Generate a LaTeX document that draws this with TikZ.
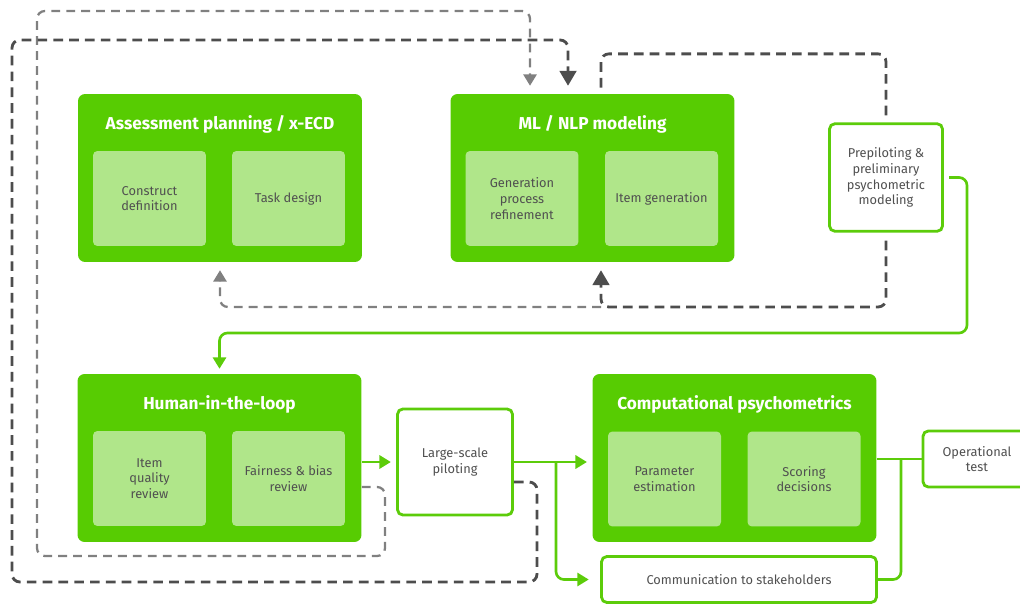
\documentclass[tikz,border=0pt]{standalone}
\usepackage{fontspec}
\setmainfont{Fira Sans}
\usetikzlibrary{positioning, arrows.meta}
\definecolor{phasegreen}{RGB}{87, 204, 2}
\definecolor{tasklight}{RGB}{176, 230, 138}
\definecolor{linegreen}{RGB}{92, 204, 10}
\definecolor{loopdark}{RGB}{77, 77, 77}
\definecolor{loopgray}{RGB}{128, 128, 128}
\definecolor{labelgray}{RGB}{80, 80, 80}

\begin{document}
\begin{tikzpicture}[
            x=0.02cm, y=-0.02cm,
            phase/.style={fill=phasegreen, rounded corners=4pt, minimum width=5.68cm, minimum height=3.36cm},
            phasetitle/.style={text=white, font=\bfseries\fontsize{9.8}{12}\selectfont},
            task/.style={fill=tasklight, rounded corners=2.5pt, minimum width=2.26cm, minimum height=1.9cm, align=center, text=labelgray, font=\fontsize{7.3}{9}\selectfont},
            stepbox/.style={draw=linegreen, line width=1.6pt, fill=white, rounded corners=3pt, align=center, text=labelgray, font=\fontsize{7.3}{9}\selectfont},
            garrow/.style={draw=linegreen, line width=1.5pt, rounded corners=4.5pt, -{Triangle[width=7.5pt, length=6.5pt]}},
            gline/.style={draw=linegreen, line width=1.5pt, rounded corners=4.5pt},
            darkloop/.style={draw=loopdark, line width=1.6pt, dash pattern=on 5.5pt off 3.5pt, rounded corners=4.5pt},
            grayloop/.style={draw=loopgray, line width=1.3pt, dash pattern=on 5pt off 3.5pt, rounded corners=4.5pt},
            darktip/.style={-{Triangle[width=9.5pt, length=8.5pt]}, shorten >=4.5pt},
            graytip/.style={-{Triangle[width=7.5pt, length=6.5pt]}, shorten >=4.5pt}
        ]
            \useasboundingbox (0,0) rectangle (1020,604);

            \node[phase] (plan) at (220,178) {};
            \node[phasetitle] (plantitle) at (220,124) {Assessment planning / x-ECD};
            \node[task] (construct) at (149.5,198.5) {Construct\\definition};
            \node[task] (taskdesign) at (288.5,198.5) {Task design};

            \node[phase] (mlnlp) at (592.5,178) {};
            \node[phasetitle] (mltitle) at (592.5,124) {ML / NLP modeling};
            \node[task] (genproc) at (522,198.5) {Generation\\process\\refinement};
            \node[task] (itemgen) at (661.5,198.5) {Item generation};

            \node[stepbox, minimum width=2.26cm, minimum height=2.15cm] (prep) at (886,177.5) {Prepiloting \&\\preliminary\\psychometric\\modeling};

            \node[phase] (hloop) at (219.5,458) {};
            \node[phasetitle] (hltitle) at (219.5,404) {Human-in-the-loop};
            \node[task] (quality) at (149.5,478.5) {Item\\quality\\review};
            \node[task] (fairness) at (288.5,478.5) {Fairness \& bias\\review};

            \node[stepbox, minimum width=2.3cm, minimum height=2.12cm] (pilot) at (455,462) {Large-scale\\piloting};

            \node[phase] (comp) at (734.5,458) {};
            \node[phasetitle] (comptitle) at (734.5,404) {Computational psychometrics};
            \node[task] (param) at (664.5,479) {Parameter\\estimation};
            \node[task] (scoring) at (804,479) {Scoring\\decisions};

            \node[stepbox, minimum width=2.16cm, minimum height=1.12cm] (oper) at (977,459) {Operational\\test};
            \node[stepbox, minimum width=5.5cm, minimum height=0.92cm] (comm) at (739,579.5) {Communication to stakeholders};

            \coordinate (split) at (556,462);
            \coordinate (join) at (901,459);
            \coordinate (back) at (601,307);

            \draw[garrow, shorten <=3pt, shorten >=2.8pt] (prep.east) -| (967,333) -| (hloop.north);
            \draw[garrow, shorten >=3pt] (hloop.east |- pilot.west) -- (pilot.west);
            \draw[garrow, shorten >=3pt] (pilot.east) -- (comp.west |- pilot.east);
            \draw[garrow, shorten >=6.5pt] (split) |- (comm.west);
            \draw[gline] (comp.east |- oper.west) -- (oper.west);
            \draw[gline] (comm.east) -| (join);

            \draw[grayloop, graytip] ([yshift=-0.58cm]hloop.east) -| (385,556) -| (37,11) -| ([xshift=-1.25cm]mlnlp.north);
            \draw[darkloop, darktip] ([yshift=-0.4cm]pilot.east) -| (537,582) -| (12,40) -| ([xshift=-0.49cm]mlnlp.north);
            \draw[darkloop] ([xshift=0.17cm, yshift=0.12cm]mlnlp.north) |- ([yshift=1.37cm]prep.north) -- ([yshift=0.13cm]prep.north);
            \draw[grayloop, graytip] (back) -| (plan.south);
            \draw[darkloop, darktip] ([yshift=-0.16cm]prep.south) |- (back) -- ([xshift=0.17cm]mlnlp.south);
        \end{tikzpicture}
\end{document}
